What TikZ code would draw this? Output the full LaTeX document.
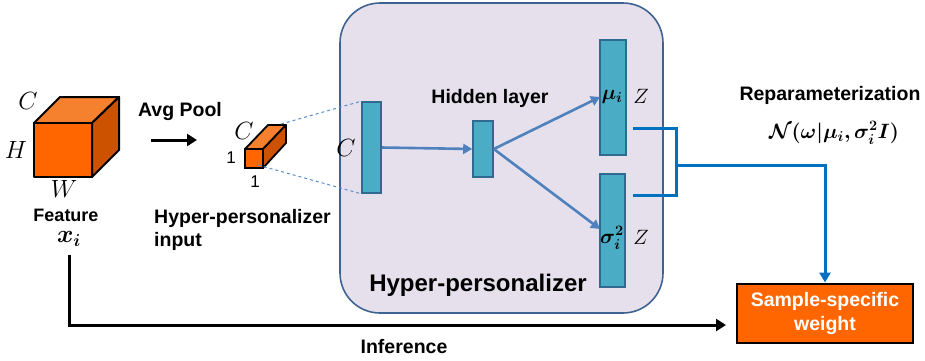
\documentclass[tikz,border=0pt]{standalone}
\usepackage{fontspec}
\setmainfont{Liberation Sans}
\usepackage{amsmath,bm}
\usetikzlibrary{arrows.meta}
\definecolor{orangef}{HTML}{FF6600}
\definecolor{orangetop}{HTML}{F5812E}
\definecolor{orangeside}{HTML}{CC5200}
\definecolor{lav}{HTML}{E5E0EC}
\definecolor{lavedge}{HTML}{3F6391}
\definecolor{barfill}{HTML}{4BACC6}
\definecolor{baredge}{HTML}{2E6B8F}
\definecolor{arrblue}{HTML}{4F81BD}
\definecolor{brblue}{HTML}{0070C0}
\definecolor{dashblue}{HTML}{5B8DC8}
\tikzset{
  lbl/.style={font=\fontsize{19.5}{22}\selectfont\bfseries, inner sep=0pt},
  mlbl/.style={font=\fontsize{24}{26}\selectfont, inner sep=0pt},
  zlbl/.style={font=\fontsize{21}{23}\selectfont, inner sep=0pt},
  bar/.style={draw=baredge, fill=barfill, line width=1.6pt, inner sep=0pt},
  facef/.style={draw=black, line width=2pt, line join=round},
  flow/.style={draw=arrblue, line width=2.6pt, -{Triangle[length=9pt,width=10pt]}},
}
\begin{document}
\begin{tikzpicture}[x=1pt,y=-1pt]
\useasboundingbox (0,0) rectangle (925,360);
% big rounded container
\node[draw=lavedge, fill=lav, line width=1.6pt, rounded corners=40pt, minimum width=323pt, minimum height=310pt, inner sep=0pt] (hp) at (501.5,158) {};
\node[font=\fontsize{24}{26}\selectfont\bfseries, inner sep=0pt] (hpl) at (478,285) {Hyper-personalizer};

% big cube
\filldraw[facef, fill=orangetop] (34,123) -- (60,97) -- (119,97) -- (92,123) -- cycle;
\filldraw[facef, fill=orangeside] (92,123) -- (119,97) -- (119,150) -- (92,177) -- cycle;
\node[facef, draw, fill=orangef, minimum width=58pt, minimum height=54pt, inner sep=0pt] (cube) at (63,150) {};
\node[mlbl] (cC) at (28,101) {$C$};
\node[mlbl] (cH) at (16,150) {$H$};
\node[mlbl] (cW) at (64,189) {$W$};
\node[font=\fontsize{18}{20}\selectfont\bfseries, inner sep=0pt] (feat) at (66,215) {Feature};
\node[mlbl] (xi) at (69,239) {$\bm{x_i}$};

% avg pool
\node[lbl] (avg) at (180,111) {Avg Pool};
\coordinate (ap1) at (151,140);
\coordinate (ap2) at (197,140);
\draw[line width=3pt, -{Triangle[length=10pt,width=12pt]}] (ap1) -- (ap2);

% small cuboid
\filldraw[draw=black, line width=1.8pt, line join=round, fill=orangetop] (245,149) -- (268,125) -- (286,125) -- (263,149) -- cycle;
\filldraw[draw=black, line width=1.8pt, line join=round, fill=orangeside] (263,149) -- (286,125) -- (286,143) -- (263,168) -- cycle;
\node[draw=black, line width=1.8pt, fill=orangef, minimum width=18pt, minimum height=19pt, inner sep=0pt] (small) at (254,158.5) {};
\node[mlbl] (sC) at (244,131) {$C$};
\node[font=\fontsize{17}{19}\selectfont, inner sep=0pt] (s1a) at (231,158) {1};
\node[font=\fontsize{17}{19}\selectfont, inner sep=0pt] (s1b) at (255,182) {1};
\node[lbl, align=left, anchor=north west] (hpin) at (154,209) {Hyper-personalizer\\[1pt]input};

% bars
\node[bar, minimum width=19pt, minimum height=91pt] (bC) at (371.5,147.5) {};
\node[mlbl] (bCl) at (346,148) {$C$};
\node[bar, minimum width=20pt, minimum height=56pt] (bH) at (483,149) {};
\node[lbl] (hid) at (490,98) {Hidden layer};
\node[bar, minimum width=26pt, minimum height=115pt] (bM) at (613,97.5) {};
\node[font=\fontsize{20}{22}\selectfont, inner sep=0pt] (mu) at (612,97) {$\bm{\mu_i}$};
\node[zlbl] (z1) at (641,96) {$Z$};
\node[bar, minimum width=25pt, minimum height=113pt] (bS) at (612.5,230.5) {};
\node[font=\fontsize{20}{22}\selectfont, inner sep=0pt] (sig) at (612,238) {$\bm{\sigma_i^2}$};
\node[zlbl] (z2) at (641,237) {$Z$};

% dashed lines
\draw[dashblue, dashed, line width=1pt] (281,124) -- (bC.north west);
\draw[dashblue, dashed, line width=1pt] (258,165) -- (bC.south west);

% flow arrows
\draw[flow] (bC.east) -- (bH.west);
\draw[flow] (bH.east) -- (600,97);
\draw[flow] (bH.east) -- (600,229);

% bracket
\coordinate (br1) at (633,128);
\coordinate (br2) at (676,128);
\coordinate (br3) at (676,195);
\coordinate (br4) at (633,195);
\coordinate (brm) at (676,165);
\draw[brblue, line width=3pt] (br1) -- (br2) -- (br3) -- (br4);
\node[lbl] (rep) at (830,95) {Reparameterization};
\node[font=\fontsize{21}{23}\selectfont, inner sep=0pt] (nrm) at (834,133) {$\bm{\mathcal{N}(\omega|\mu_i,\sigma_i^2 I)}$};

% sample-specific weight box
\node[draw=black, fill=orangef, line width=2pt, minimum width=176pt, minimum height=59pt, inner sep=0pt, text=white, font=\fontsize{19.5}{24}\selectfont\bfseries, align=center] (sw) at (825,313) {Sample-specific\\weight};
\draw[brblue, line width=3pt, -{Triangle[length=10pt,width=11pt]}] (brm) -| (sw.north);

% inference
\coordinate (inf1) at (69,255);
\coordinate (inf2) at (69,325);
\coordinate (inf3) at (726,325);
\draw[line width=3pt, -{Triangle[length=10pt,width=12pt]}] (inf1) -- (inf2) -- (inf3);
\node[lbl] (infl) at (404,347) {Inference};
\end{tikzpicture}
\end{document}
